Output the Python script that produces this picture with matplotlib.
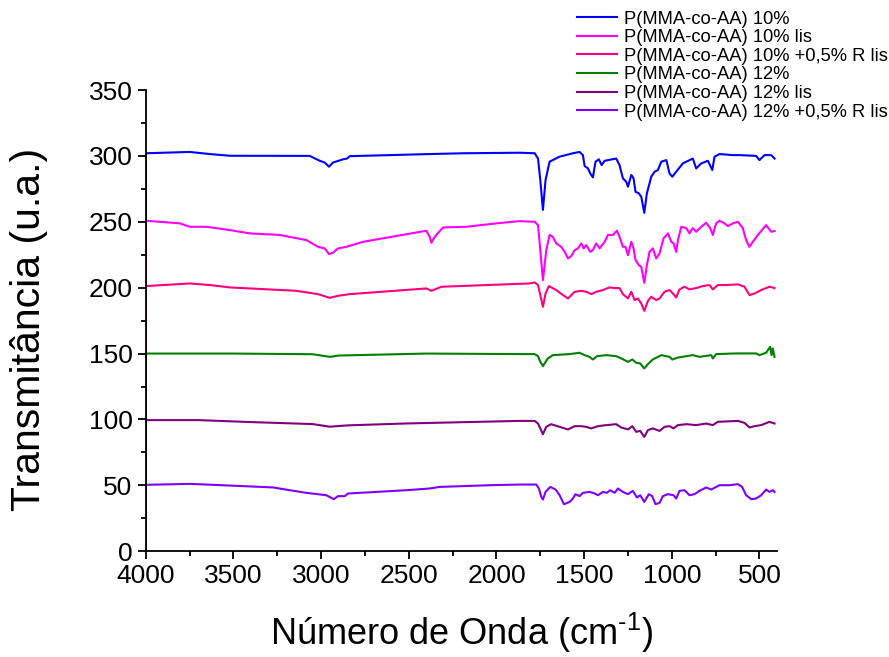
import numpy as np
import matplotlib
matplotlib.use('Agg')
import matplotlib.pyplot as plt

plt.rcParams['font.family'] = ['Liberation Sans', 'DejaVu Sans']
plt.rcParams['mathtext.fontset'] = 'custom'
plt.rcParams['mathtext.rm'] = 'Liberation Sans'

# spectra (wavenumber cm-1, transmittance u.a.)
wn_10 = [4000, 4000, 3749, 3635, 3521, 3065, 3008, 2980, 2955, 2932, 2875, 2852, 2837, 2381, 2191, 1868, 1782,
         1763, 1750, 1735, 1720, 1697, 1640, 1564, 1526, 1507, 1497, 1478, 1465, 1450, 1435, 1416, 1400, 1383,
         1317, 1298, 1279, 1260, 1250, 1231, 1218, 1207, 1188, 1174, 1157, 1142, 1117, 1098, 1079, 1060, 1031,
         1013, 997, 975, 937, 880, 861, 832, 794, 769, 756, 728, 652, 614, 519, 500, 471, 433, 414]
t_10 = [0, 302, 303, 301.4, 300.1, 300, 296.3, 295, 291.8, 295, 297.4, 298, 299.8, 301.4, 302, 302.4, 302,
        298, 281.7, 259, 281.7, 295.6, 299.4, 302, 303, 300.6, 292.3, 290.5, 286.7, 283.7, 295.6, 297.4, 293, 296.3,
        298, 293, 283, 280.4, 276.6, 285.5, 283, 272.8, 271.6, 269, 256.8, 271.6, 284.2, 288, 289.3, 295.6, 296.8,
        286.7, 284.2, 288, 294.3, 298, 290.5, 294.3, 296.3, 289.3, 299.4, 301.4, 300.6, 300.6, 300, 296.8, 300.6,
        300.6, 298]

wn_10lis = [4000, 4000, 3806, 3749, 3654, 3521, 3407, 3236, 3084, 3018, 2980, 2955, 2932, 2904, 2856, 2761, 2400,
            2381, 2371, 2352, 2305, 2172, 2001, 1868, 1782, 1763, 1750, 1735, 1716, 1697, 1678, 1659, 1630, 1611,
            1592, 1573, 1554, 1535, 1516, 1503, 1488, 1465, 1450, 1431, 1412, 1383, 1364, 1336, 1313, 1298, 1279,
            1264, 1250, 1231, 1218, 1207, 1188, 1174, 1157, 1142, 1127, 1108, 1089, 1070, 1047, 1022, 1003, 990,
            975, 965, 946, 918, 899, 880, 861, 832, 804, 781, 766, 747, 728, 699, 680, 652, 623, 595, 576, 557, 538,
            509, 462, 433, 414]
t_10lis = [0, 250.8, 248.8, 246.2, 246.2, 243.7, 241.2, 240, 236.1, 231, 229.8, 225.5, 226.5, 229.8, 231, 234.8,
           243.2, 238.6, 234.1, 238.6, 245.7, 246.2, 248.8, 250.5, 250, 247.5, 228.5, 205.7, 228.5, 240, 238.6,
           233.6, 231, 227.2, 222.2, 224, 228.5, 229.8, 233.6, 229.8, 232.3, 227.2, 228.5, 233.6, 229.8, 234.8, 240,
           240, 243.2, 238.6, 231, 231, 224.7, 234.8, 229.8, 221, 217.1, 215.8, 203.7, 217.1, 227.2, 229.8, 222.2,
           226, 237.4, 241.2, 234.8, 233.6, 227.2, 236, 246.2, 245.2, 241.2, 245.2, 242.4, 246.2, 249.3, 245.2, 240,
           248.8, 250.8, 248.8, 246.7, 248.8, 250, 245.2, 236.1, 231, 234.8, 240, 247.5, 242.4, 243]

wn_10r = [4000, 4000, 3749, 3635, 3521, 3141, 3018, 2951, 2904, 2837, 2400, 2371, 2314, 1811, 1782, 1763, 1750,
          1735, 1720, 1701, 1659, 1621, 1592, 1554, 1516, 1488, 1459, 1431, 1393, 1355, 1326, 1298, 1279, 1250,
          1231, 1212, 1193, 1174, 1157, 1136, 1117, 1089, 1070, 1041, 1013, 990, 975, 956, 927, 899, 861, 823, 785,
          766, 737, 690, 623, 585, 557, 528, 490, 443, 414]
t_10r = [0, 201.2, 203.2, 202, 200.2, 197.6, 195.1, 192.3, 193.8, 195.1, 199.4, 197.6, 200.7, 203.2, 204, 202,
         194.4, 185.5, 195.6, 201.2, 198.2, 194.4, 191.8, 196.9, 197.6, 196.9, 195.1, 196.9, 198.2, 200.2, 199.7,
         199.7, 195.1, 191.8, 196.9, 190.6, 191.8, 188, 182.4, 190, 193.1, 190.6, 191.8, 196.9, 198.2, 195.1, 192.6,
         198.7, 200.7, 198.7, 199.7, 201.2, 202, 198.7, 202, 202, 202.5, 200.7, 194.4, 195.6, 198.2, 200.7, 199.7]

wn_12 = [4000, 4000, 3500, 3050, 2950, 2900, 2400, 1868, 1782, 1763, 1750, 1735, 1707, 1678, 1583, 1526, 1497,
         1469, 1450, 1427, 1374, 1317, 1288, 1250, 1225, 1203, 1180, 1157, 1136, 1108, 1060, 1013, 997, 965, 880,
         842, 775, 766, 747, 633, 519, 500, 462, 439, 431, 424, 414]
t_12 = [0, 150, 150, 149.5, 147.5, 148.5, 150, 149.6, 149.6, 148, 143.7, 140.5, 146.3, 148.8, 149.6, 150.6, 148.8,
        147.5, 145.5, 148, 148.8, 148, 146.3, 143.7, 145.5, 143, 142.5, 138.7, 142, 145.5, 148.8, 147.5, 145.5, 147,
        148.8, 147.5, 148.8, 146.3, 149.6, 150.1, 150.1, 148.8, 150.6, 155.1, 148.8, 153.9, 147.5]

wn_12lis = [4000, 4000, 3700, 3400, 3050, 2950, 2900, 2850, 2500, 2000, 1868, 1782, 1763, 1750, 1735, 1716, 1688,
            1640, 1592, 1554, 1516, 1488, 1459, 1421, 1374, 1317, 1288, 1250, 1225, 1203, 1180, 1157, 1136, 1108,
            1070, 1041, 1013, 990, 965, 918, 861, 804, 766, 737, 623, 585, 557, 528, 490, 443, 414]
t_12lis = [0, 99.5, 99.5, 98, 96.5, 94.5, 95, 95.5, 97, 98.5, 98.9, 98.9, 96.9, 93.2, 88.8, 94.4, 96.4, 94.4,
           92.4, 94.9, 94.9, 94.4, 93.2, 94.9, 95.7, 96.4, 93.9, 92.4, 94.9, 90.6, 91.3, 86.8, 91.9, 93.2, 91.3,
           94.4, 94.9, 93.2, 95.7, 96.4, 95.7, 96.9, 95.7, 98.2, 98.9, 97.4, 93.9, 94.9, 95.7, 98.2, 96.9]

wn_12r = [4000, 4000, 3749, 3654, 3274, 3179, 3084, 2970, 2928, 2904, 2865, 2847, 2514, 2381, 2324, 2039, 1868,
          1773, 1758, 1744, 1735, 1720, 1693, 1663, 1640, 1615, 1583, 1564, 1549, 1526, 1507, 1469, 1440, 1421,
          1393, 1371, 1351, 1326, 1307, 1279, 1250, 1222, 1199, 1180, 1157, 1131, 1112, 1093, 1070, 1051, 1022,
          990, 975, 956, 927, 899, 870, 842, 804, 775, 728, 671, 623, 599, 576, 547, 519, 490, 462, 443, 424, 414]
t_12r = [0, 50.4, 51.1, 50.6, 48.4, 46.3, 44.3, 42.5, 39.5, 41.8, 41.8, 43.8, 46.3, 47.6, 48.8, 50.1, 50.6, 50.6,
         47.6, 41.2, 39.2, 45, 48.8, 46.8, 42.5, 35.7, 37.4, 40, 43.3, 41.8, 44.3, 45, 43.8, 42.5, 45, 44.3, 46.3,
         44.3, 47.6, 45, 43.3, 45.8, 40.8, 42.5, 37.4, 43.3, 41.8, 35.7, 36.7, 41.8, 43.3, 42.5, 40, 45.8, 46.3,
         42.5, 43.3, 45.8, 48.4, 46.8, 50.1, 50.1, 50.9, 48.8, 42.5, 39.5, 40, 42.5, 46.8, 45, 46.3, 45]

labels = ['P(MMA-co-AA) 10%', 'P(MMA-co-AA) 10% lis', 'P(MMA-co-AA) 10% +0,5% R lis',
          'P(MMA-co-AA) 12%', 'P(MMA-co-AA) 12% lis', 'P(MMA-co-AA) 12% +0,5% R lis']
colors = ['#0000FF', '#FF00FF', '#FF0080', '#008000', '#800080', '#8000FF']

series = [(wn_10, t_10), (wn_10lis, t_10lis), (wn_10r, t_10r),
          (wn_12, t_12), (wn_12lis, t_12lis), (wn_12r, t_12r)]

fig = plt.figure(figsize=(8.89, 6.57), dpi=100)
ax = fig.add_axes([0.164, 0.161, 0.710, 0.702])

for (x, y), lab, c in zip(series, labels, colors):
    ax.plot(x, y, color=c, lw=1.5, label=lab)

ax.set_xlim(4000, 400)
ax.set_ylim(0, 350)
ax.set_xticks(np.arange(4000, 499, -500))
ax.set_xticks(np.arange(3750, 399, -500), minor=True)
ax.set_yticks(np.arange(0, 351, 50))
ax.set_yticks(np.arange(25, 350, 50), minor=True)

ax.spines['top'].set_visible(False)
ax.spines['right'].set_visible(False)
for s in ['left', 'bottom']:
    ax.spines[s].set_linewidth(1.3)
ax.tick_params(which='major', length=6, width=1.3, labelsize=19, direction='out')
ax.tick_params(which='minor', length=3.5, width=1.3, direction='out')

ax.set_xlabel('Número de Onda (cm$^{\\text{-1}}$)', fontsize=26, labelpad=16)
ax.set_ylabel('Transmitância (u.a.)', fontsize=29.5)
ax.yaxis.set_label_coords(-0.155, 0.48)

fig.legend(loc='upper left', bbox_to_anchor=(0.649, 0.984), frameon=False, fontsize=13.2,
           handlelength=2.2, handletextpad=0.35, labelspacing=0.09, borderpad=0, borderaxespad=0)

fig.savefig('out.png', dpi=100)
